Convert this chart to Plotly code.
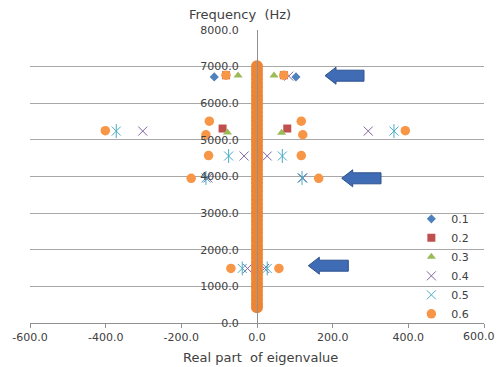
import plotly.graph_objects as go

# ---- data ----
series_names = ["0.1", "0.2", "0.3", "0.4", "0.5", "0.6"]

re_01 = [-113, 103]
fr_01 = [6720, 6720]

re_02 = [-82, 71, -91, 80]
fr_02 = [6765, 6765, 5310, 5310]

re_03 = [-50, 45, -78, 65]
fr_03 = [6755, 6755, 5200, 5195]

re_04 = [84, -302, 294, -34, 27, -130, 121, -25, 20]
fr_04 = [6740, 5240, 5240, 4560, 4560, 3960, 3960, 1490, 1490]

re_05 = [-372, 362, -75, 67, -135, 119, -39, 27]
fr_05 = [5240, 5240, 4560, 4560, 3960, 3960, 1490, 1490]

re_06 = [-82, 71, -401, 392, -126, 117, -135, 121, -128, 117, -174, 163, -69, 58]
fr_06 = [6765, 6765, 5250, 5250, 5510, 5510, 5140, 5140, 4570, 4570, 3950, 3950, 1490, 1490]

# near-zero real-part modes of series 0.6 (dense column at Re = 0)
re_06_zero = [0] * 59
fr_06_zero = [430, 525, 640, 748, 862, 975, 1088, 1204, 1318, 1427, 1545, 1661, 1772, 1886,
              2003, 2112, 2229, 2341, 2458, 2566, 2684, 2797, 2912, 3025, 3138, 3252, 3366,
              3479, 3594, 3706, 3821, 3934, 4046, 4161, 4276, 4388, 4503, 4617, 4729, 4842,
              4958, 5071, 5186, 5298, 5413, 5527, 5640, 5754, 5868, 5981, 6096, 6208, 6322,
              6437, 6549, 6663, 6778, 6891, 7010]

x_ticks = [-600, -400, -200, 0, 200, 400, 600]
x_tick_text = ["-600.0", "-400.0", "-200.0", "0.0", "200.0", "400.0", "600.0"]

colors = ["#4F81BD", "#C0504D", "#9BBB59", "#8064A2", "#4BACC6", "#F79646"]

fig = go.Figure()
fig.add_trace(go.Scatter(x=re_01, y=fr_01, mode="markers", name="0.1",
                         marker=dict(symbol="diamond", size=7, color=colors[0])))
fig.add_trace(go.Scatter(x=re_02, y=fr_02, mode="markers", name="0.2",
                         marker=dict(symbol="square", size=8, color=colors[1])))
fig.add_trace(go.Scatter(x=re_03, y=fr_03, mode="markers", name="0.3",
                         marker=dict(symbol="triangle-up", size=8, color=colors[2])))
fig.add_trace(go.Scatter(x=re_04, y=fr_04, mode="markers", name="0.4",
                         marker=dict(symbol="x-thin-open", size=9, color=colors[3],
                                     line=dict(width=1, color=colors[3]))))
fig.add_trace(go.Scatter(x=re_05, y=fr_05, mode="markers", name="0.5", legendgroup="0.5",
                         marker=dict(symbol="x-thin-open", size=9, color=colors[4],
                                     line=dict(width=1, color=colors[4]))))
fig.add_trace(go.Scatter(x=re_05, y=fr_05, mode="markers", name="0.5", legendgroup="0.5",
                         showlegend=False,
                         marker=dict(symbol="line-ns-open", size=10, color=colors[4],
                                     line=dict(width=1, color=colors[4]))))
fig.add_trace(go.Scatter(x=re_06, y=fr_06, mode="markers", name="0.6", legendgroup="0.6",
                         marker=dict(symbol="circle", size=9.5, color=colors[5])))
fig.add_trace(go.Scatter(x=re_06_zero, y=fr_06_zero, mode="markers", name="0.6",
                         legendgroup="0.6", showlegend=False,
                         marker=dict(symbol="circle", size=12, color="#EC8535")))

# block arrows (annotation shapes, pixel positions converted to paper)
L, T, W, H = 30, 30, 454, 293
def px(xp):
    return (xp - L) / W
def py(yp):
    return 1 - (yp - T) / H

arrows = [(325, 364, 75.7), (341.7, 381, 178.3), (308.3, 348.3, 265.7)]
for tx, rx, cy in arrows:
    hl, hh, bh = 11, 8.5, 5.5
    pts = [(tx, cy), (tx + hl, cy - hh), (tx + hl, cy - bh), (rx, cy - bh),
           (rx, cy + bh), (tx + hl, cy + bh), (tx + hl, cy + hh)]
    path = "M " + " L ".join(f"{px(a):.5f},{py(b):.5f}" for a, b in pts) + " Z"
    fig.add_shape(type="path", path=path, xref="paper", yref="paper",
                  fillcolor="#3F6CB4", line=dict(color="#2F5290", width=1))

fig.add_annotation(text="Frequency\u00a0 (Hz)", x=px(240), y=py(14), xref="paper", yref="paper",
                   showarrow=False, font=dict(family="DejaVu Sans", size=13, color="#404040"),
                   xanchor="center", yanchor="middle")
fig.add_annotation(text="Real part\u00a0 of eigenvalue", x=px(260), y=py(357), xref="paper",
                   yref="paper", showarrow=False,
                   font=dict(family="DejaVu Sans", size=13, color="#404040"),
                   xanchor="center", yanchor="middle")

# last x tick label kept inside the page edge
tick_text_shown = x_tick_text[:-1] + [""]
fig.add_annotation(text=x_tick_text[-1], x=px(497), y=py(336), xref="paper", yref="paper",
                   showarrow=False, font=dict(family="DejaVu Sans", size=11, color="#404040"),
                   xanchor="right", yanchor="middle")

fig.update_layout(
    width=498, height=367,
    margin=dict(l=L, r=498 - L - W, t=T, b=367 - T - H, autoexpand=False),
    paper_bgcolor="white", plot_bgcolor="white",
    font=dict(family="DejaVu Sans", size=11, color="#404040"),
    showlegend=True,
    legend=dict(x=0.84, y=0.405, xanchor="left", yanchor="top",
                bgcolor="rgba(0,0,0,0)", font=dict(size=11, color="#404040"),
                tracegroupgap=0),
    xaxis=dict(range=[-600, 600], tickvals=x_ticks, ticktext=tick_text_shown,
               showgrid=False, zeroline=False, showline=True, linecolor="#909090",
               ticks="outside", ticklen=4, tickcolor="#909090",
               ticklabeloverflow="allow", automargin=False,
               tickfont=dict(size=11, color="#404040")),
    yaxis=dict(range=[0, 8000], dtick=1000, tickformat=".1f",
               anchor="free", position=0.5, automargin=False,
               showgrid=True, gridcolor="#A8A8A8", gridwidth=1,
               zeroline=False, showline=True, linecolor="#909090",
               ticks="", ticklabelstandoff=16,
               tickfont=dict(size=11, color="#404040")),
)

fig.write_html("out.html")
